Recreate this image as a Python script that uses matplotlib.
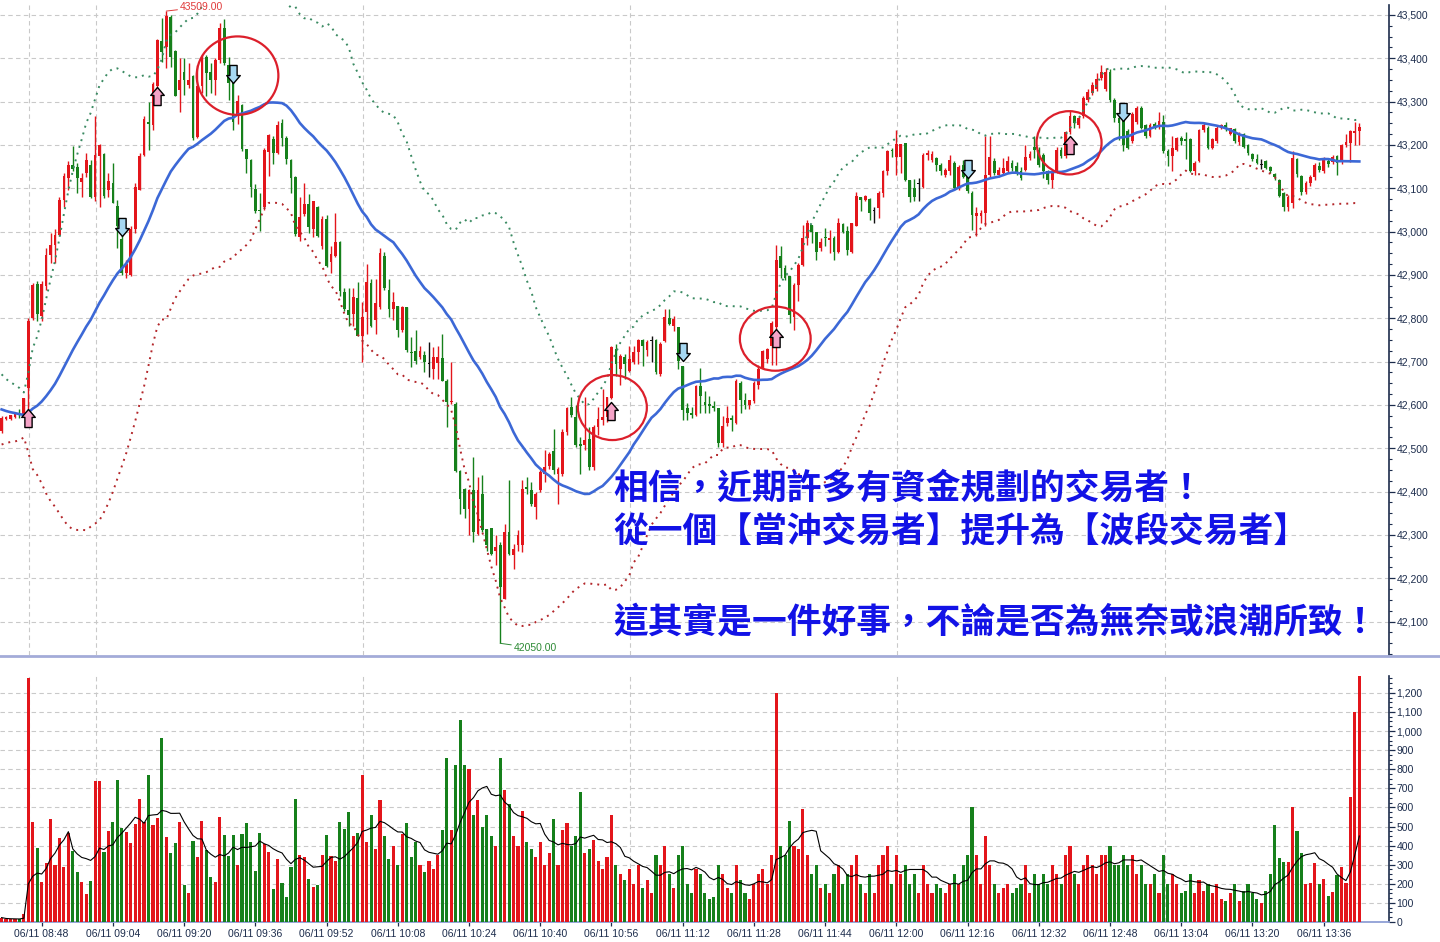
import numpy as np
import pandas as pd
import matplotlib
matplotlib.use("Agg")
import matplotlib.pyplot as plt
from matplotlib.path import Path
from matplotlib.patches import Ellipse
from matplotlib.lines import Line2D
from matplotlib.ticker import MultipleLocator, FuncFormatter, FixedLocator

plt.rcParams['font.family'] = ['Liberation Sans', 'DejaVu Sans']

# ---------------- data ----------------
first_bar = -6          # bar 0 = 08:45 open
session_date = "06/11"

opens = [42540, 42567, 42567, 42572, 42580, 42580,
    42640, 42801, 42878, 42805, 42874, 42947, 42970, 42993, 43074, 43124,
    43153, 43150, 43114, 43135, 43154, 43081, 43174, 43180, 43095, 43112,
    43060, 42982, 42905, 42901, 43005, 43097, 43177, 43253, 43247, 43335,
    43439, 43427, 43496, 43416, 43327, 43369, 43339, 43358, 43219, 43335,
    43404, 43369, 43350, 43396, 43469, 43385, 43346, 43267, 43292, 43190,
    43166, 43098, 43050, 43056, 43184, 43213, 43181, 43250, 43215, 43165,
    43125, 42987, 43040, 43063, 43006, 43056, 42967, 43029, 42931, 42943,
    42977, 42861, 42819, 42810, 42847, 42760, 42814, 42881, 42797, 42825,
    42944, 42866, 42822, 42829, 42772, 42825, 42722, 42725, 42710, 42716,
    42695, 42683, 42698, 42708, 42656, 42606, 42603, 42447, 42407, 42361,
    42403, 42303, 42395, 42313, 42315, 42264, 42276, 42153, 42307, 42253,
    42276, 42276, 42411, 42403, 42365, 42403, 42441, 42460, 42493, 42441,
    42441, 42537, 42595, 42572, 42510, 42507, 42522, 42457, 42549, 42566,
    42572, 42615, 42730, 42683, 42710, 42679, 42700, 42722, 42749, 42727,
    42748, 42749, 42672, 42748, 42800, 42783, 42779, 42691, 42593, 42582,
    42578, 42643, 42606, 42603, 42597, 42593, 42513, 42559, 42570, 42559,
    42651, 42611, 42599, 42609, 42647, 42682, 42705, 42735, 42781, 42944,
    42916, 42897, 42804, 42877, 42924, 42985, 43016, 43000, 42962, 42987,
    42981, 42985, 42954, 43017, 43002, 42954, 43012, 43079, 43073, 43075,
    43049, 43054, 43089, 43141, 43189, 43173, 43173, 43204, 43119, 43100,
    43112, 43104, 43177, 43166, 43170, 43154, 43131, 43139, 43158, 43100,
    43154, 43127, 43089, 43035, 43035, 43043, 43131, 43163, 43131, 43135,
    43139, 43158, 43152, 43139, 43143, 43170, 43196, 43189, 43177, 43139,
    43120, 43139, 43189, 43175, 43229, 43267, 43246, 43266, 43304, 43321,
    43329, 43354, 43329, 43369, 43304, 43262, 43262, 43232, 43209, 43252,
    43286, 43245, 43221, 43248, 43245, 43252, 43186, 43175, 43189, 43217,
    43213, 43213, 43140, 43163, 43234, 43240, 43194, 43209, 43240, 43245,
    43226, 43236, 43207, 43225, 43199, 43179, 43168, 43156, 43163, 43150,
    43133, 43120, 43090, 43058, 43067, 43167, 43128, 43092, 43112, 43125,
    43152, 43141, 43164, 43161, 43175, 43161, 43199, 43205, 43227, 43232]

highs = [42575, 42575, 42578, 42582, 42590, 42617,
    42800, 42882, 42885, 42885, 42962, 42997, 43005, 43081, 43135, 43162,
    43198, 43158, 43135, 43181, 43166, 43266, 43202, 43181, 43135, 43158,
    43074, 42997, 42935, 43012, 43112, 43181, 43266, 43300, 43346, 43444,
    43492, 43509, 43500, 43419, 43400, 43400, 43389, 43362, 43385, 43408,
    43408, 43389, 43400, 43481, 43490, 43404, 43358, 43315, 43295, 43190,
    43167, 43109, 43090, 43194, 43225, 43221, 43255, 43259, 43221, 43167,
    43129, 43079, 43113, 43086, 43071, 43060, 43035, 43038, 42967, 43044,
    42979, 42871, 42871, 42871, 42883, 42837, 42925, 42891, 42891, 42962,
    42952, 42891, 42860, 42829, 42829, 42825, 42756, 42772, 42737, 42725,
    42745, 42733, 42737, 42764, 42660, 42700, 42608, 42449, 42409, 42407,
    42480, 42434, 42438, 42313, 42315, 42299, 42284, 42326, 42426, 42280,
    42311, 42426, 42434, 42422, 42399, 42449, 42495, 42491, 42545, 42457,
    42545, 42595, 42618, 42599, 42526, 42618, 42549, 42553, 42595, 42637,
    42618, 42737, 42741, 42718, 42718, 42737, 42737, 42752, 42752, 42749,
    42760, 42752, 42745, 42821, 42821, 42806, 42779, 42691, 42605, 42595,
    42647, 42686, 42632, 42620, 42609, 42593, 42574, 42597, 42578, 42659,
    42655, 42628, 42612, 42655, 42693, 42728, 42732, 42793, 42970, 42966,
    42924, 42897, 42881, 42928, 43016, 43028, 43016, 43000, 42985, 43008,
    43004, 42989, 43031, 43020, 43012, 43020, 43092, 43081, 43085, 43077,
    43058, 43093, 43143, 43189, 43192, 43234, 43202, 43204, 43119, 43121,
    43124, 43181, 43189, 43185, 43173, 43158, 43147, 43177, 43162, 43154,
    43166, 43135, 43093, 43058, 43050, 43220, 43220, 43170, 43150, 43170,
    43175, 43166, 43160, 43150, 43200, 43185, 43220, 43196, 43181, 43143,
    43143, 43196, 43196, 43233, 43280, 43270, 43266, 43312, 43330, 43346,
    43365, 43385, 43377, 43375, 43308, 43266, 43266, 43236, 43275, 43290,
    43290, 43248, 43250, 43252, 43275, 43270, 43190, 43220, 43218, 43220,
    43230, 43216, 43163, 43236, 43250, 43244, 43216, 43244, 43248, 43252,
    43240, 43240, 43230, 43228, 43202, 43182, 43180, 43168, 43166, 43152,
    43135, 43122, 43092, 43085, 43185, 43170, 43130, 43118, 43130, 43158,
    43160, 43172, 43170, 43178, 43178, 43203, 43225, 43235, 43254, 43250]

lows = [42535, 42565, 42565, 42570, 42570, 42578,
    42578, 42797, 42793, 42793, 42866, 42928, 42928, 42990, 43058, 43097,
    43140, 43089, 43081, 43127, 43078, 43070, 43058, 43078, 43081, 43066,
    42962, 42901, 42893, 42897, 42997, 43095, 43174, 43189, 43235, 43312,
    43392, 43377, 43381, 43312, 43277, 43316, 43331, 43212, 43216, 43320,
    43312, 43320, 43316, 43389, 43385, 43304, 43235, 43248, 43186, 43136,
    43079, 43044, 43002, 43050, 43129, 43156, 43179, 43198, 43156, 43090,
    42990, 42979, 43037, 42998, 42987, 42987, 42960, 42918, 42904, 42941,
    42852, 42818, 42783, 42783, 42760, 42699, 42764, 42779, 42764, 42822,
    42866, 42802, 42795, 42756, 42768, 42722, 42687, 42695, 42706, 42676,
    42664, 42660, 42660, 42656, 42549, 42603, 42445, 42349, 42340, 42301,
    42284, 42299, 42307, 42264, 42253, 42230, 42050, 42153, 42253, 42222,
    42264, 42260, 42395, 42368, 42338, 42399, 42422, 42453, 42441, 42372,
    42437, 42530, 42572, 42503, 42441, 42495, 42449, 42449, 42530, 42553,
    42560, 42614, 42668, 42645, 42660, 42675, 42695, 42695, 42689, 42714,
    42699, 42672, 42668, 42745, 42784, 42770, 42683, 42566, 42566, 42570,
    42574, 42582, 42582, 42582, 42586, 42502, 42502, 42551, 42540, 42555,
    42582, 42590, 42590, 42605, 42636, 42682, 42697, 42693, 42693, 42893,
    42889, 42789, 42774, 42839, 42920, 42970, 42974, 42935, 42955, 42966,
    42951, 42935, 42951, 42997, 42947, 42951, 43012, 43047, 43070, 43027,
    43020, 43031, 43081, 43131, 43173, 43131, 43135, 43116, 43068, 43070,
    43070, 43100, 43166, 43160, 43139, 43131, 43127, 43131, 43097, 43097,
    43124, 43089, 43004, 42989, 43020, 43012, 43127, 43131, 43127, 43131,
    43135, 43139, 43131, 43120, 43139, 43166, 43170, 43150, 43124, 43109,
    43100, 43135, 43170, 43170, 43225, 43240, 43240, 43262, 43300, 43316,
    43325, 43350, 43325, 43300, 43254, 43212, 43185, 43190, 43205, 43248,
    43236, 43216, 43218, 43236, 43238, 43182, 43151, 43140, 43186, 43200,
    43167, 43138, 43130, 43160, 43230, 43190, 43190, 43205, 43236, 43232,
    43222, 43205, 43200, 43192, 43177, 43163, 43155, 43145, 43144, 43136,
    43120, 43080, 43048, 43048, 43055, 43125, 43085, 43088, 43105, 43120,
    43138, 43136, 43150, 43155, 43131, 43157, 43195, 43161, 43200, 43199]

closes = [42571, 42572, 42576, 42579, 42578, 42615,
    42793, 42876, 42809, 42878, 42947, 42970, 42993, 43074, 43128, 43153,
    43145, 43124, 43124, 43166, 43081, 43177, 43200, 43083, 43116, 43066,
    43012, 42905, 42925, 43006, 43103, 43175, 43260, 43248, 43341, 43442,
    43415, 43498, 43404, 43312, 43350, 43350, 43350, 43216, 43335, 43404,
    43366, 43350, 43396, 43469, 43389, 43342, 43254, 43302, 43190, 43167,
    43104, 43048, 43047, 43189, 43222, 43182, 43245, 43217, 43167, 43123,
    42994, 43034, 43063, 43010, 43070, 42990, 43029, 42921, 42948, 42977,
    42862, 42821, 42808, 42848, 42760, 42802, 42883, 42783, 42835, 42950,
    42871, 42822, 42837, 42772, 42825, 42728, 42720, 42702, 42725, 42699,
    42695, 42710, 42710, 42656, 42606, 42609, 42447, 42382, 42361, 42403,
    42307, 42403, 42311, 42276, 42257, 42272, 42180, 42307, 42257, 42268,
    42299, 42407, 42407, 42372, 42395, 42445, 42456, 42487, 42449, 42453,
    42537, 42593, 42576, 42507, 42506, 42518, 42457, 42549, 42568, 42572,
    42618, 42733, 42695, 42714, 42695, 42706, 42722, 42749, 42737, 42745,
    42748, 42676, 42741, 42802, 42787, 42798, 42702, 42589, 42582, 42578,
    42643, 42620, 42601, 42597, 42594, 42513, 42551, 42570, 42565, 42655,
    42612, 42599, 42611, 42651, 42682, 42724, 42728, 42789, 42935, 42916,
    42893, 42808, 42877, 42924, 42985, 43020, 43000, 42954, 42977, 42985,
    42985, 42954, 43020, 43000, 42958, 43020, 43082, 43073, 43082, 43043,
    43049, 43089, 43141, 43187, 43185, 43202, 43202, 43119, 43081, 43081,
    43112, 43177, 43181, 43179, 43154, 43139, 43143, 43166, 43100, 43150,
    43127, 43093, 43039, 43043, 43043, 43131, 43173, 43135, 43143, 43147,
    43162, 43147, 43137, 43124, 43173, 43180, 43189, 43154, 43139, 43120,
    43137, 43189, 43175, 43229, 43267, 43250, 43262, 43308, 43323, 43339,
    43352, 43369, 43369, 43304, 43262, 43250, 43200, 43194, 43271, 43286,
    43240, 43221, 43245, 43240, 43255, 43186, 43175, 43194, 43216, 43209,
    43209, 43140, 43159, 43234, 43245, 43194, 43213, 43240, 43245, 43236,
    43238, 43209, 43227, 43196, 43181, 43167, 43158, 43156, 43148, 43140,
    43125, 43083, 43056, 43080, 43171, 43133, 43092, 43113, 43125, 43154,
    43142, 43167, 43156, 43173, 43158, 43199, 43206, 43232, 43232, 43242]

volumes = [23, 14, 14, 14, 14, 40,
    1277, 523, 386, 207, 307, 539, 298, 439, 289, 465,
    370, 260, 207, 144, 214, 740, 740, 368, 477, 523,
    746, 491, 470, 412, 514, 646, 523, 772, 509, 544,
    961, 444, 363, 412, 523, 193, 154, 425, 339, 530,
    377, 233, 207, 549, 456, 346, 456, 298, 461, 518,
    418, 268, 467, 409, 368, 172, 330, 204, 130, 288,
    646, 353, 339, 225, 182, 196, 351, 456, 346, 319,
    523, 486, 575, 451, 467, 770, 420, 560, 380, 640,
    450, 330, 400, 300, 460, 520, 340, 420, 300, 260,
    320, 280, 350, 480, 860, 480, 820, 1060, 820, 800,
    560, 640, 500, 560, 450, 400, 860, 690, 620, 450,
    400, 580, 420, 380, 340, 420, 300, 360, 540, 300,
    480, 520, 400, 450, 680, 360, 380, 430, 320, 280,
    340, 560, 300, 250, 220, 280, 200, 300, 180, 220,
    150, 350, 300, 400, 250, 180, 350, 400, 200, 150,
    280, 250, 150, 120, 130, 300, 250, 180, 150, 300,
    220, 150, 120, 200, 250, 280, 200, 350, 1200, 400,
    350, 530, 400, 380, 590, 350, 250, 300, 180, 200,
    150, 250, 300, 200, 250, 300, 350, 200, 150, 250,
    150, 300, 350, 400, 200, 350, 250, 300, 200, 250,
    150, 300, 200, 150, 200, 180, 150, 200, 250, 200,
    300, 350, 600, 350, 200, 450, 300, 200, 150, 180,
    200, 150, 180, 200, 300, 150, 250, 200, 250, 200,
    300, 250, 200, 350, 400, 250, 200, 300, 350, 300,
    250, 350, 350, 400, 300, 300, 350, 300, 350, 250,
    300, 200, 200, 250, 150, 350, 200, 250, 200, 150,
    160, 250, 150, 220, 160, 200, 150, 200, 120, 110,
    150, 200, 110, 160, 200, 150, 120, 100, 160, 250,
    510, 333, 315, 315, 600, 477, 363, 198, 205, 310,
    198, 224, 135, 158, 245, 289, 205, 657, 1102, 1288]

# closes of the (unseen) bars before the chart's left edge, for the indicators
prior_closes = [42680, 42660, 42640, 42650, 42670, 42630, 42600, 42610, 42590,
                42580, 42560, 42540, 42520, 42530, 42550, 42560, 42580, 42600,
                42620, 42610, 42590, 42600, 42580, 42570, 42560, 42550, 42560,
                42570, 42560]

buy_signal_bars = [0, 29, 131, 168, 234]
buy_signal_prices = [42571, 43312, 42587, 42755, 43199]
sell_signal_bars = [21, 46, 147, 211, 246]
sell_signal_prices = [43010, 43364, 42723, 43144, 43276]

circle_bars = [47.0, 131.2, 167.8, 233.8]
circle_prices = [43360, 42594, 42753, 43205]

note_lines = ["相信，近期許多有資金規劃的交易者！",
              "從一個【當沖交易者】提升為【波段交易者】",
              "這其實是一件好事，不論是否為無奈或浪潮所致！"]

# ---------------- derived ----------------
n = len(closes)
assert len(opens) == n and len(highs) == n and len(lows) == n and len(volumes) == n
bars = np.arange(first_bar, first_bar + n)
o = np.array(opens, float)
c = np.array(closes, float)
h = np.maximum.reduce([np.array(highs, float), o, c])
l = np.minimum.reduce([np.array(lows, float), o, c])
v = np.array(volumes, float)

RED = '#e3151b'
GREEN = '#16801b'
BLACK = '#111111'
col = np.where(c > o, RED, np.where(c < o, GREEN, BLACK))
vcol = np.where(c >= o, RED, GREEN)

full = pd.Series(prior_closes + closes, dtype=float)
ma30 = full.rolling(30).mean().to_numpy()[len(prior_closes):]
sd30 = full.rolling(30).std(ddof=0).to_numpy()[len(prior_closes):]
upper = ma30 + 2 * sd30
lower = ma30 - 2 * sd30
vma = pd.Series(v).rolling(10, min_periods=1).mean().to_numpy()

minutes = 8 * 60 + 45 + bars
labels_all = [f"{session_date} {m // 60:02d}:{m % 60:02d}" for m in minutes]

# ---------------- figure ----------------
W, H = 1440, 942
fig = plt.figure(figsize=(W / 100, H / 100), dpi=100)
fig.patch.set_facecolor('white')

def fy(py):
    return 1 - py / H

RIGHT = 1389
ax = fig.add_axes([0, fy(655), RIGHT / W, (655 - 5) / H])
axv = fig.add_axes([0, fy(922), RIGHT / W, (922 - 676) / H])

xlim = (-6.36, 305.67)
NAVY = '#1c2c4c'
GRID = '#c9c9c9'

for a in (ax, axv):
    a.set_xlim(*xlim)
    a.set_facecolor('white')
    for s in ('left', 'top'):
        a.spines[s].set_visible(False)
    a.spines['right'].set_color(NAVY)
    a.spines['right'].set_linewidth(1.2)
    a.yaxis.tick_right()
    a.tick_params(axis='y', which='major', direction='out', length=4, width=0.9,
                  color=NAVY, labelcolor=NAVY, labelsize=7.5, pad=1.5)
    a.tick_params(axis='y', which='minor', direction='out', length=2.5, width=0.8, color=NAVY)
    a.grid(axis='y', which='major', linestyle=(0, (4, 3)), color=GRID, linewidth=0.8)
    a.set_axisbelow(True)
    # hourly vertical grid lines
    for b, m in zip(bars, minutes):
        if b == 0 or (m % 60 == 0 and b > 0):
            a.axvline(b + 0.25, linestyle=(0, (4, 3)), color=GRID, linewidth=0.8, zorder=0)

ax.spines['bottom'].set_visible(False)
ax.set_ylim(42023, 43523)
ax.yaxis.set_major_locator(MultipleLocator(100))
ax.yaxis.set_minor_locator(MultipleLocator(25))
ax.yaxis.set_major_formatter(FuncFormatter(lambda y, p: f"{int(round(y)):,}"))
ax.set_xticks([])

# candles
ax.vlines(bars, l, h, colors=col, linewidth=1.0, zorder=3)
body = np.maximum(np.abs(c - o), 2.4)
ax.bar(bars, body, bottom=np.minimum(o, c) - np.where(c == o, 1.2, 0), width=0.62,
       color=col, linewidth=0, zorder=4)

# MA and Bollinger bands
ax.plot(bars, ma30, color='#3c68d6', linewidth=1.9, zorder=5)
ax.plot(bars, upper, color='#3a8a62', linewidth=1.4, linestyle=(0, (1, 2.6)), zorder=5)
ax.plot(bars, lower, color='#b3262a', linewidth=1.4, linestyle=(0, (1, 2.6)), zorder=5)

# circles
cw = [18.35, 15.5, 15.9, 14.6]
ch = [181, 150, 148, 146]
for bx, py, w_, h_ in zip(circle_bars, circle_prices, cw, ch):
    ax.add_patch(Ellipse((bx, py), w_, h_, fill=False, edgecolor='#dc1f2b',
                         linewidth=1.6, zorder=7))

# signal arrows
up_verts = [(-0.40, -1), (0.40, -1), (0.40, 0.12), (0.75, 0.12), (0, 1),
            (-0.75, 0.12), (-0.40, 0.12), (-0.40, -1)]
up_path = Path(up_verts, [Path.MOVETO] + [Path.LINETO] * 6 + [Path.CLOSEPOLY])
dn_path = Path([(x, -y) for x, y in up_verts], up_path.codes)
ax.plot(buy_signal_bars, buy_signal_prices, linestyle='none', marker=up_path,
        markersize=13, markerfacecolor='#f5a3c7', markeredgecolor='black',
        markeredgewidth=1.0, zorder=8)
ax.plot(sell_signal_bars, sell_signal_prices, linestyle='none', marker=dn_path,
        markersize=13, markerfacecolor='#a6d8f2', markeredgecolor='black',
        markeredgewidth=1.0, zorder=8)

# high / low labels
ih = int(np.argmax(h)); il = int(np.argmin(l))
ax.annotate(f"{h[ih]:.2f}", xy=(bars[ih], h[ih]), xytext=(10, 3), textcoords='offset points',
            fontsize=7.5, color='#e03a3a', va='center', ha='left', annotation_clip=False,
            arrowprops=dict(arrowstyle='-', color='#e03a3a', lw=0.7, shrinkA=0, shrinkB=0),
            zorder=9)
ax.annotate(f"{l[il]:.2f}", xy=(bars[il], l[il]), xytext=(10, -3.6), textcoords='offset points',
            fontsize=7.5, color='#2d8a35', va='center', ha='left', annotation_clip=False,
            arrowprops=dict(arrowstyle='-', color='#2d8a35', lw=0.7, shrinkA=0, shrinkB=0),
            zorder=9)

# volume panel
axv.bar(bars, v, width=0.7, color=vcol, linewidth=0, zorder=3)
axv.plot(bars, vma, color='black', linewidth=0.8, zorder=4)
axv.set_ylim(0, v.max())
axv.yaxis.set_major_locator(FixedLocator(np.arange(0, v.max(), 100)))
axv.yaxis.set_minor_locator(MultipleLocator(25))
axv.yaxis.set_major_formatter(FuncFormatter(lambda y, p: f"{int(round(y)):,}"))
axv.spines['bottom'].set_color('#8f9fd6')
axv.spines['bottom'].set_linewidth(1.3)
tick_idx = [i for i, b in enumerate(bars) if b >= 3 and (b - 3) % 16 == 0]
axv.set_xticks(bars[tick_idx])
axv.set_xticklabels([labels_all[i] for i in tick_idx])
axv.tick_params(axis='x', direction='out', length=3, width=0.9, color=NAVY,
                labelcolor=NAVY, labelsize=7.5, pad=2)

# separator between panels
fig.add_artist(Line2D([0, 1], [fy(656), fy(656)], color='#a3abd8', linewidth=2.0))

# annotation text
for txt, yy in zip(note_lines, [488, 532, 622]):
    fig.text(613 / W, fy(yy), txt, fontsize=25, color='#1212e6', ha='left', va='center',
             family=['Noto Sans CJK TC', 'DejaVu Sans'], fontweight='bold', zorder=10)

fig.savefig('out.png', dpi=100, facecolor='white')
